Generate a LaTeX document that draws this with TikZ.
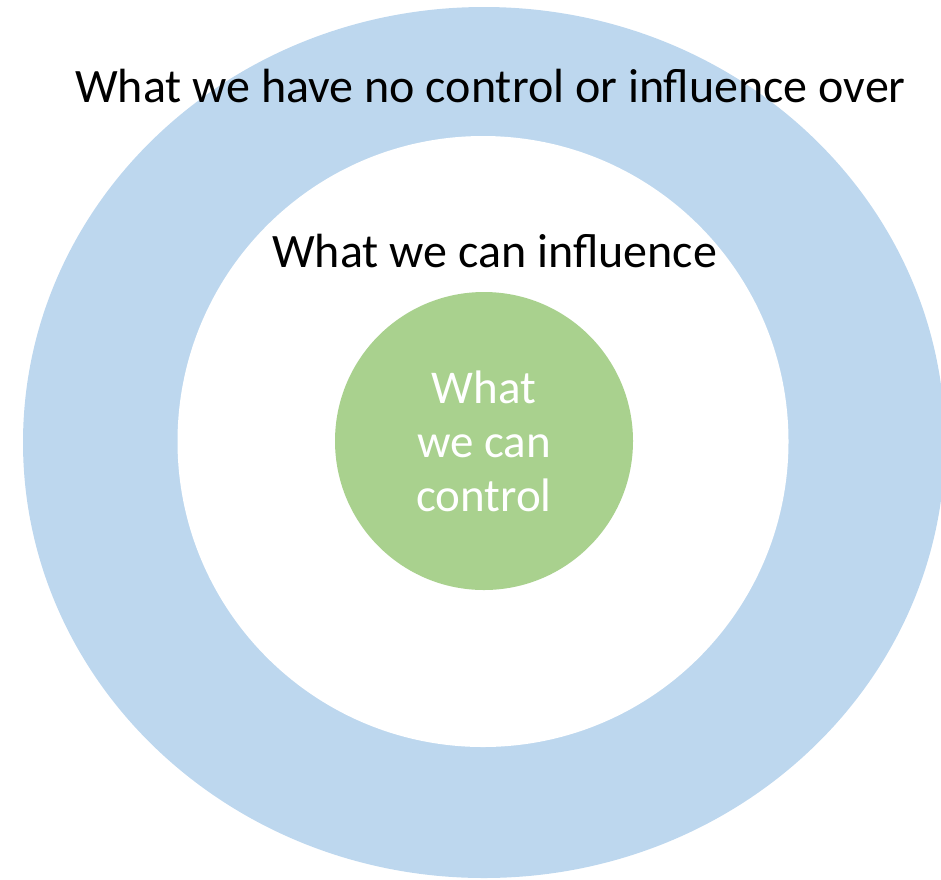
\documentclass[tikz,border=0pt]{standalone}
\usepackage{fontspec}
\setmainfont{Carlito}
\usetikzlibrary{shapes.geometric}
\definecolor{outerblue}{RGB}{189,215,238}
\definecolor{coregreen}{RGB}{169,209,142}
\begin{document}
\begin{tikzpicture}[x=1pt,y=-1pt]
    \tikzstyle{zone}=[inner sep=0pt,outer sep=0pt]
    \tikzstyle{label}=[inner sep=0pt,anchor=base west,font=\fontsize{48}{57}\selectfont]
      \useasboundingbox (0,0) rectangle (941,879);
      \clip (0,0) rectangle (941,879);
      \node (outer) at (484,442.5) [zone,ellipse,fill=outerblue,minimum width=922pt,minimum height=871pt] {};
      \node (inner) at (483,441.5) [zone,circle,fill=white,minimum size=611pt] {};
      \node (core) at (484,441) [zone,circle,fill=coregreen,minimum size=298pt,
        text=white,align=center,font=\fontsize{47}{54}\selectfont] {What\\we can\\control};

      \node (nocontrol) at (75,102) [label] {What we have no control or influence over};
      \node (influence) at (272,267) [label] {What we can influence};
  \end{tikzpicture}
\end{document}
